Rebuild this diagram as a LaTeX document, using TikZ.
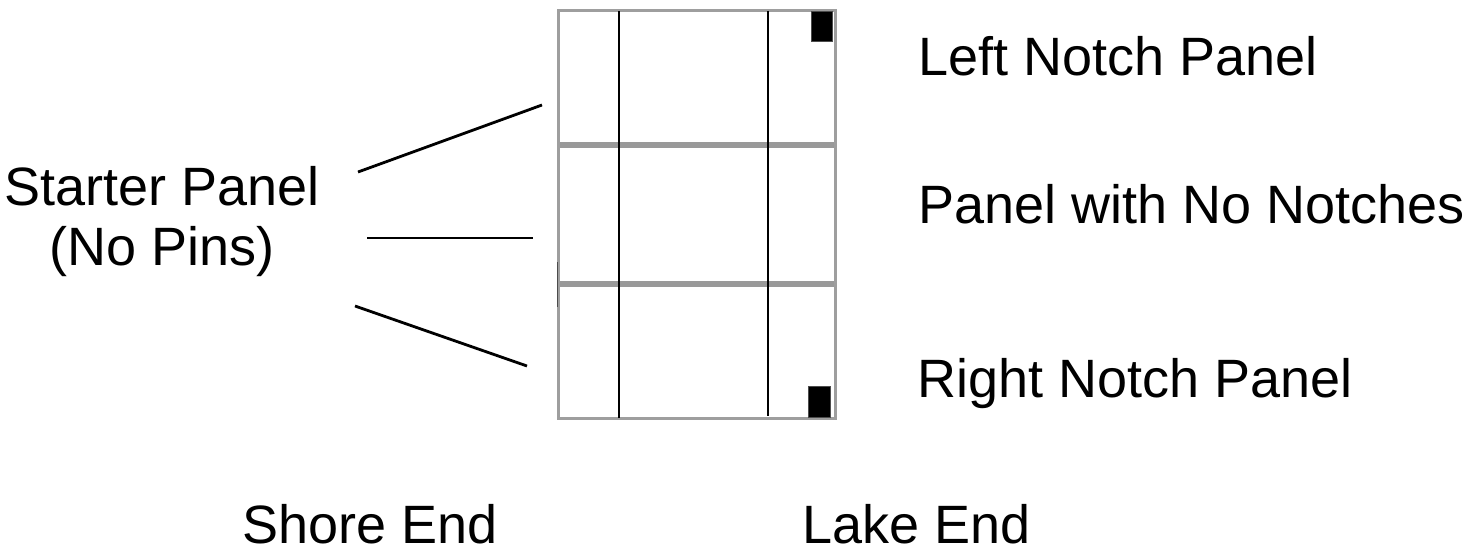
\documentclass[tikz,border=0pt]{standalone}
\usepackage{fontspec}
\setmainfont{Liberation Sans}
\begin{document}
\begin{tikzpicture}[x=1pt,y=-1pt,
  lbl/.style={inner sep=0pt,anchor=base west,font=\fontsize{54}{60}\selectfont},
  frame/.style={draw=black!38,line width=3pt},
  divider/.style={draw=black!40,line width=6pt},
  rib/.style={draw=black,line width=2pt},
  notch/.style={fill=black,draw=black!70,line width=0.6pt},
  lead/.style={draw=black,line width=2.8pt}]
\useasboundingbox (0,0) rectangle (1466,552);
% panel stack
\coordinate (tl) at (558,10);
\coordinate (br) at (835,418);
\draw[divider] (558,145) -- (835,145);
\draw[divider] (558,284) -- (835,284);
\draw[frame] (tl) rectangle (br);
\draw[rib] (619,11) -- (619,418);
\draw[rib] (768,11) -- (768,416);
\draw[draw=black!70,line width=1pt] (557,262) -- (557,307);
\node[notch,minimum width=21pt,minimum height=30pt,inner sep=0pt] (n1) at (821.5,26) {};
\node[notch,minimum width=22pt,minimum height=31pt,inner sep=0pt] (n2) at (819,401.5) {};
% labels
\node[lbl] (lnp) at (918,75) {Left Notch Panel};
\node[lbl] (pnn) at (918,223) {Panel with No Notches};
\node[lbl] (rnp) at (917,397) {Right Notch Panel};
\node[inner sep=0pt,anchor=base,font=\fontsize{54}{60}\selectfont,align=center] (sp) at (162,265) {Starter Panel\\(No Pins)};
\node[lbl] (se) at (242,543) {Shore End};
\node[lbl] (le) at (802,543) {Lake End};
% leader lines
\coordinate (a1) at (358,172); \coordinate (b1) at (542,105);
\coordinate (a2) at (367,238); \coordinate (b2) at (533,238);
\coordinate (a3) at (355,306); \coordinate (b3) at (527,366);
\draw[lead] (a1) -- (b1);
\draw[lead] (a2) -- (b2);
\draw[lead] (a3) -- (b3);
\end{tikzpicture}
\end{document}
